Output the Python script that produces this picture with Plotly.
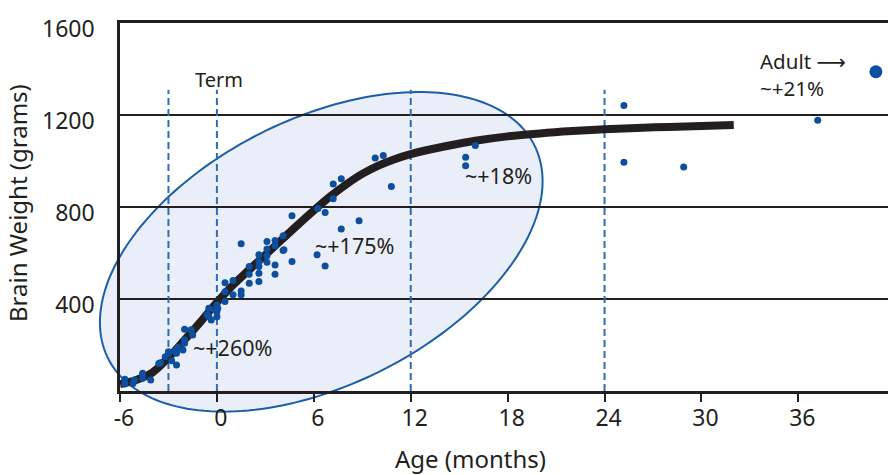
import numpy as np
import plotly.graph_objects as go

# ---------------- data ----------------
curve_months = [-6, -5, -4, -3, -2, -1, 0, 1, 2, 3, 4, 5, 6, 7, 8, 9, 10, 11, 12,
                14, 16, 18, 20, 22, 24, 26, 28, 30, 32]
curve_grams = [30, 48, 80, 145, 222, 302, 385, 461, 527, 592, 657, 722, 785, 845, 898,
               944, 980, 1008, 1030, 1062, 1088, 1107, 1120, 1130, 1138, 1144, 1148, 1152, 1156]

point_months = [-5.7, -5.7, -5.2, -5.1, -4.6, -4.6, -4.1, -3.6, -3.5, -3.2, -3.0, -3.0,
                -2.8, -2.6, -2.5, -2.5, -2.4, -2.1, -2.0, -2.0, -2.0, -1.6, -1.5,
                -0.6, -0.5, -0.5, -0.35, -0.15, 0.0, 0.0, 0.0, 0.05, 0.5, 0.5, 0.5,
                1.0, 1.0, 1.5, 1.5, 1.5, 2.0, 2.0, 2.0, 2.6, 2.6, 2.6, 2.6, 2.6,
                3.1, 3.1, 3.1, 3.1, 3.6, 3.6, 3.6, 3.6, 4.1, 4.1, 4.15, 4.65, 4.65,
                6.2, 6.25, 6.7, 6.7, 7.2, 7.2, 7.7, 7.7, 8.8, 9.8, 10.3, 10.8,
                15.4, 15.4, 16.0, 25.2, 25.2, 28.9, 37.2]
point_grams = [30, 51, 33, 48, 55, 77, 48, 120, 123, 149, 171, 164,
               131, 175, 113, 164, 190, 178, 208, 222, 269, 266, 244,
               331, 323, 360, 309, 353, 323, 345, 374, 360, 389, 432, 471,
               418, 480, 418, 435, 640, 469, 508, 541, 476, 512, 541, 563, 592,
               560, 588, 617, 650, 508, 548, 631, 654, 611, 675, 614, 563, 762,
               592, 794, 544, 776, 836, 900, 704, 923, 740, 1013, 1024, 889,
               979, 1016, 1067, 995, 1241, 974, 1177]

adult_month = [40.8]
adult_grams = [1388]

x_ticks = [-6, 0, 6, 12, 18, 24, 30, 36]
y_ticks = [400, 800, 1200, 1600]
marker_months = [-3, 0, 12, 24]   # dashed reference lines

labels = [
    # (text, month, grams, xanchor, size)
    ("Term", 0.14, 1354, "center", 20),
    ("~+260%", 0.95, 187, "center", 21.5),
    ("~+175%", 8.53, 631, "center", 21.5),
    ("~+18%", 17.42, 936, "center", 21.5),
    ("Adult \u27f6<br>~+21%", 33.5, 1375, "left", 20.5),
]

# ---------------- style / geometry ----------------
W, H = 888, 475
ML, MR, MT, MB = 120, 0, 23, 84
XR = [-6, 41.55]
YR = [0, 1600]
INK = "#231f20"
BLUE = "#0d4f9e"
DASH_BLUE = "#2f6db3"
FONT = "Noto Sans, DejaVu Sans, sans-serif"

# ellipse (center + two conjugate semi-diameters, data units)
E_C = (6.46, 605)
E_U = (13.2, 463)
E_V = (-3.68, 518)


def to_paper(x, y):
    return (np.asarray(x) - XR[0]) / (XR[1] - XR[0]), (np.asarray(y) - YR[0]) / (YR[1] - YR[0])


t = np.linspace(0, 2 * np.pi, 200)
ex = E_C[0] + E_U[0] * np.cos(t) + E_V[0] * np.sin(t)
ey = E_C[1] + E_U[1] * np.cos(t) + E_V[1] * np.sin(t)
px, py = to_paper(ex, ey)
ell_path = "M " + " L ".join(f"{a:.5f},{b:.5f}" for a, b in zip(px, py)) + " Z"

fig = go.Figure()

fig.add_trace(go.Scatter(
    x=curve_months, y=curve_grams, mode="lines",
    line=dict(color=INK, width=8, shape="spline", smoothing=1.0),
    hoverinfo="skip", showlegend=False))

fig.add_trace(go.Scatter(
    x=point_months, y=point_grams, mode="markers",
    marker=dict(color=BLUE, size=7), showlegend=False, cliponaxis=False))

fig.add_trace(go.Scatter(
    x=adult_month, y=adult_grams, mode="markers",
    marker=dict(color=BLUE, size=13), showlegend=False, cliponaxis=False))

shapes = [dict(type="path", path=ell_path, xref="paper", yref="paper",
               line=dict(color="#1c5fa8", width=2), fillcolor="#e9eef8", layer="below")]
for m in marker_months:
    shapes.append(dict(type="line", xref="x", yref="y", x0=m, x1=m, y0=0, y1=1310,
                       line=dict(color=DASH_BLUE, width=2, dash="7px,4px"), layer="between"))

annotations = []
for text, mx, gy, xa, fs in labels:
    annotations.append(dict(x=mx, y=gy, xref="x", yref="y", text=text, showarrow=False,
                            xanchor=xa, yanchor="middle", align="left",
                            font=dict(family=FONT, size=fs, color=INK)))
annotations.append(dict(x=(470 - ML) / (W - ML - MR), y=(391 - 458) / (H - MT - MB),
                        xref="paper", yref="paper", text="Age (months)", showarrow=False,
                        xanchor="center", yanchor="middle",
                        font=dict(family=FONT, size=24, color=INK)))
annotations.append(dict(x=(18 - ML) / (W - ML - MR), y=(391 - 203) / (H - MT - MB),
                        xref="paper", yref="paper", text="Brain Weight (grams)", showarrow=False,
                        textangle=-90, xanchor="center", yanchor="middle",
                        font=dict(family=FONT, size=24, color=INK)))

fig.update_layout(
    width=W, height=H,
    margin=dict(l=ML, r=MR, t=MT, b=MB, pad=0, autoexpand=False),
    paper_bgcolor="white", plot_bgcolor="rgba(0,0,0,0)",
    showlegend=False,
    shapes=shapes, annotations=annotations,
    font=dict(family=FONT, color=INK),
)
fig.update_xaxes(range=XR, tickvals=x_ticks, ticktext=[str(v) for v in x_ticks],
                 showgrid=False, zeroline=False, automargin=False,
                 showline=True, linecolor=INK, linewidth=2.5, mirror=True,
                 ticks="outside", ticklen=8, tickwidth=2, tickcolor=INK,
                 ticklabelstandoff=-3, ticklabelshift=4,
                 tickfont=dict(family=FONT, size=23, color=INK))
fig.update_yaxes(range=YR, tickvals=y_ticks, ticktext=[str(v) for v in y_ticks],
                 showgrid=True, gridcolor=INK, gridwidth=2, zeroline=False, automargin=False,
                 showline=True, linecolor=INK, linewidth=2.5, mirror=False,
                 ticks="", ticklabelstandoff=18, ticklabelshift=6,
                 tickfont=dict(family=FONT, size=23, color=INK))

fig.write_html("out.html", config={"displayModeBar": False},
               post_script="document.body.style.margin='0';document.body.style.padding='0';")
